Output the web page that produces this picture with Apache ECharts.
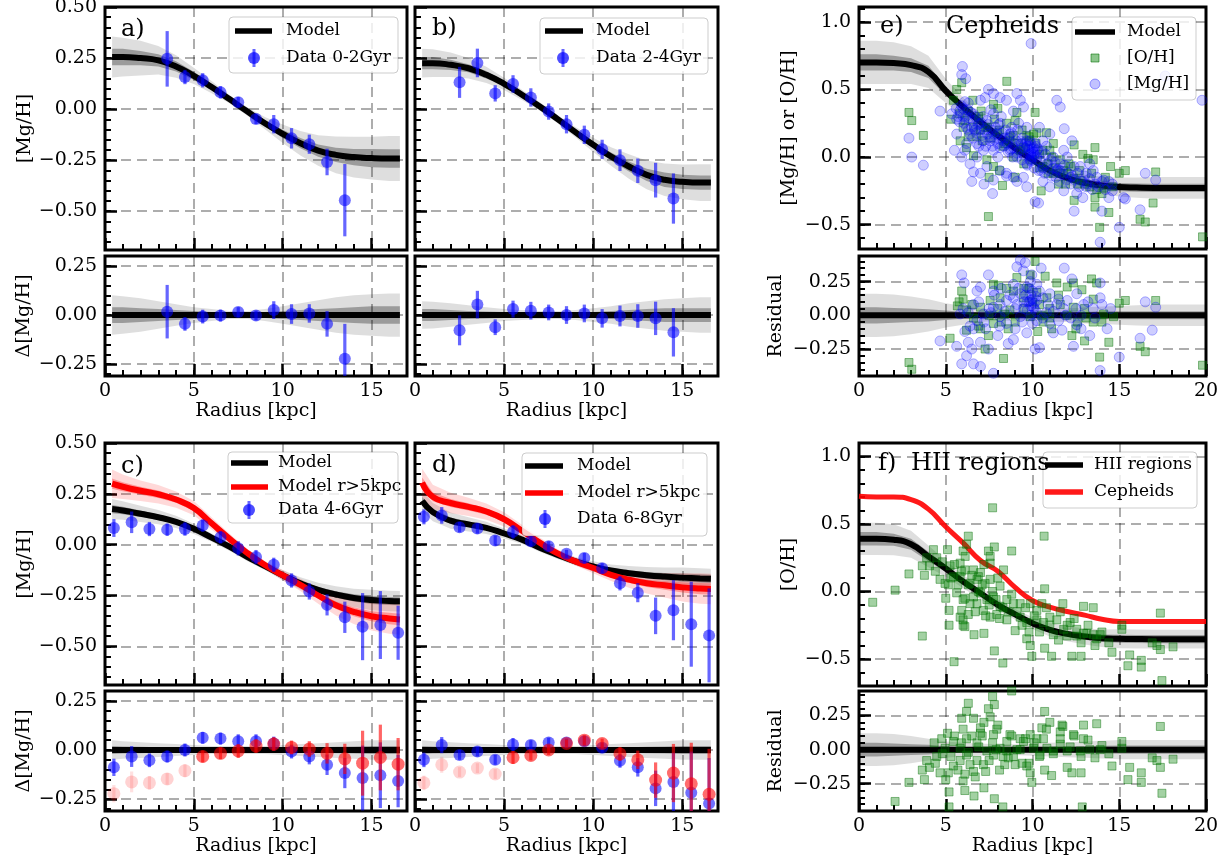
<!DOCTYPE html>
<html><head><meta charset="utf-8">
<script src="https://cdn.jsdelivr.net/npm/echarts@6/dist/echarts.min.js"></script>
<style>html,body{margin:0;padding:0;background:#fff}#c{width:1231px;height:865px}</style>
</head><body><div id="c"></div>
<script>
// ---------------- DATA ----------------
// model radius grids
const xModelAD = [0.4,1,2,3,4,5,6,7,8,9,10,11,12,13,14,15,16,16.6];
const xModelEF = [0,1,2,3,4,5,6,7,8,9,10,11,12,13,14,15,16,17,18,19,20];
// panel a (0-2 Gyr)
const xDataA = [3.5,4.5,5.5,6.5,7.5,8.5,9.5,10.5,11.5,12.5,13.5];
const yDataA = [0.246,0.157,0.141,0.082,0.034,-0.048,-0.074,-0.143,-0.172,-0.259,-0.446];
const errA   = [0.136,0.035,0.035,0.03,0.025,0.025,0.045,0.05,0.047,0.065,0.177];
const resA   = [0.017,-0.045,-0.008,-0.003,0.015,-0.003,0.025,0.005,0.008,-0.045,-0.222];
const modelA = [0.255,0.255,0.25,0.239,0.209,0.163,0.108,0.049,-0.011,-0.069,-0.121,-0.167,-0.203,-0.224,-0.235,-0.24,-0.242,-0.242];
const spreadOutA = [0.10,0.095,0.085,0.07,0.055,0.04,0.03,0.02,0.02,0.03,0.045,0.06,0.075,0.09,0.1,0.105,0.11,0.11];
const spreadInA  = [0.04,0.04,0.035,0.03,0.025,0.02,0.015,0.01,0.01,0.015,0.02,0.025,0.03,0.035,0.04,0.045,0.045,0.045];
// panel b (2-4 Gyr)
const xDataB = [2.5,3.5,4.5,5.5,6.5,7.5,8.5,9.5,10.5,11.5,12.5,13.5,14.5];
const yDataB = [0.131,0.226,0.077,0.123,0.057,-0.012,-0.074,-0.126,-0.197,-0.25,-0.302,-0.348,-0.438];
const errB   = [0.076,0.07,0.04,0.043,0.045,0.04,0.045,0.045,0.047,0.053,0.06,0.085,0.123];
const resB   = [-0.078,0.053,-0.062,0.03,0.022,0.013,0.0,0.008,-0.017,-0.005,-0.005,-0.017,-0.088];
const modelB = [0.225,0.225,0.217,0.2,0.168,0.124,0.07,0.013,-0.049,-0.113,-0.175,-0.232,-0.281,-0.322,-0.346,-0.356,-0.36,-0.36];
const spreadOutB = [0.07,0.068,0.06,0.05,0.04,0.03,0.025,0.02,0.02,0.025,0.035,0.045,0.06,0.07,0.08,0.085,0.09,0.09];
const spreadInB  = [0.03,0.03,0.025,0.02,0.018,0.015,0.012,0.01,0.01,0.012,0.015,0.02,0.025,0.03,0.035,0.035,0.035,0.035];
// panels c, d (4-6, 6-8 Gyr)
const xDataCD = [0.5,1.5,2.5,3.5,4.5,5.5,6.5,7.5,8.5,9.5,10.5,11.5,12.5,13.5,14.5,15.5,16.5];
const yDataC = [0.082,0.110,0.077,0.074,0.077,0.094,0.036,-0.018,-0.061,-0.099,-0.176,-0.230,-0.296,-0.357,-0.403,-0.395,-0.433];
const errC   = [0.044,0.053,0.035,0.03,0.033,0.03,0.03,0.035,0.035,0.035,0.035,0.04,0.052,0.077,0.165,0.167,0.133];
const resBlueC = [-0.088,-0.033,-0.052,-0.033,0.0,0.062,0.058,0.045,0.045,0.033,-0.008,-0.033,-0.075,-0.117,-0.142,-0.128,-0.158];
const resRedC  = [-0.222,-0.162,-0.167,-0.147,-0.105,-0.033,-0.017,-0.005,0.02,0.03,0.013,0.005,-0.017,-0.045,-0.067,-0.038,-0.072];
const modelC    = [0.175,0.168,0.152,0.135,0.112,0.078,0.035,-0.01,-0.06,-0.105,-0.15,-0.19,-0.222,-0.245,-0.262,-0.272,-0.277,-0.278];
const modelCRed = [0.30,0.285,0.265,0.248,0.222,0.18,0.105,0.03,-0.04,-0.10,-0.15,-0.198,-0.25,-0.298,-0.33,-0.352,-0.363,-0.368];
const yDataD = [0.137,0.144,0.086,0.079,0.020,0.063,0.017,-0.008,-0.045,-0.066,-0.116,-0.190,-0.236,-0.350,-0.322,-0.391,-0.446];
const errD   = [0.037,0.041,0.025,0.025,0.025,0.033,0.025,0.025,0.02,0.025,0.025,0.035,0.047,0.09,0.148,0.209,0.231];
const resBlueD = [-0.05,0.025,-0.025,-0.008,-0.05,0.028,0.025,0.038,0.038,0.045,0.012,-0.055,-0.088,-0.195,-0.162,-0.217,-0.272];
const resRedD  = [-0.167,-0.075,-0.112,-0.092,-0.122,-0.038,-0.028,0.0,0.033,0.05,0.033,-0.02,-0.05,-0.153,-0.117,-0.172,-0.225];
const modelD    = [0.215,0.16,0.118,0.1,0.083,0.055,0.025,-0.015,-0.05,-0.082,-0.107,-0.127,-0.14,-0.15,-0.157,-0.162,-0.166,-0.168];
const modelDRed = [0.305,0.235,0.205,0.186,0.163,0.125,0.068,0.01,-0.043,-0.082,-0.115,-0.148,-0.172,-0.19,-0.2,-0.21,-0.216,-0.218];
const spreadOutCD = [0.05,0.045,0.04,0.035,0.03,0.025,0.02,0.02,0.02,0.02,0.025,0.03,0.035,0.04,0.045,0.05,0.05,0.05];
const spreadInCD  = [0.02,0.018,0.016,0.014,0.012,0.01,0.008,0.008,0.008,0.008,0.01,0.012,0.014,0.016,0.018,0.02,0.02,0.02];
const spreadOutRed = [0.07,0.06,0.05,0.045,0.04,0.035,0.03,0.025,0.02,0.02,0.025,0.03,0.04,0.05,0.06,0.07,0.075,0.075];
const spreadInRed  = [0.025,0.022,0.02,0.018,0.016,0.014,0.012,0.01,0.008,0.008,0.01,0.012,0.015,0.018,0.022,0.025,0.028,0.028];
// panel e (Cepheids)
const modelE = [0.70,0.70,0.695,0.68,0.63,0.49,0.37,0.26,0.16,0.065,-0.02,-0.10,-0.155,-0.19,-0.21,-0.222,-0.226,-0.228,-0.228,-0.228,-0.228];
const spreadOutE = [0.16,0.16,0.155,0.14,0.12,0.09,0.07,0.05,0.04,0.04,0.04,0.045,0.05,0.06,0.065,0.07,0.075,0.08,0.08,0.08,0.08];
const spreadInE  = [0.06,0.06,0.055,0.05,0.045,0.035,0.025,0.02,0.015,0.015,0.015,0.02,0.02,0.025,0.03,0.03,0.03,0.03,0.03,0.03,0.03];
const ohCepheids = [[2.88,0.33],[3.04,0.27],[3.71,0.16],[5.63,0.50],[5.92,0.55],[8.52,0.56],[5.29,0.28],[6.56,0.42],[7.75,0.39],[8.0,0.36],[7.04,0.34],[9.1,0.33],[10.15,0.33],[10.8,0.18],[11.2,0.10],[12.4,0.09],[12.9,0.02],[13.6,0.07],[15.0,-0.12],[15.35,-0.10],[17.1,-0.11],[16.95,-0.34],[16.2,-0.46],[16.5,-0.48],[19.8,-0.59],[7.46,-0.44],[13.87,-0.52],[14.4,-0.41],[13.6,-0.37],[12.4,-0.32],[8.27,-0.21],[6.6,0.01],[5.83,0.12],[6.2,0.07],[7.37,-0.02],[7.75,-0.07],[8.9,0.0],[9.48,0.07],[9.67,0.16],[10.25,0.18],[11.0,0.05],[11.6,-0.02],[11.8,-0.10],[12.75,-0.17],[13.3,-0.22],[14.1,-0.23],[14.6,-0.22],[13.6,-0.30],[6.8,0.15],[7.4,0.22],[8.1,0.20],[9.0,0.27],[10.06,0.17],[10.6,-0.07],[11.2,-0.12],[12.2,-0.07],[13.5,-0.02],[14.5,-0.07],[13.2,-0.01],[6.0,0.22],[6.3,0.34],[5.44,0.42],[8.4,0.1],[9.3,0.05],[9.8,0.12],[10.4,0.02],[7.0,0.2],[8.7,0.15],[10.9,-0.05],[12.0,-0.12],[12.6,-0.2],[14.0,-0.27],[11.5,-0.2],[6.9,0.3],[9.5,-0.05],
  [5.8,0.32],[6.1,0.27],[6.3,0.15],[6.6,0.22],[6.9,0.28],[7.1,0.12],[7.3,0.22],[7.6,0.14],[7.8,0.28],[8.0,0.18],[8.3,0.08],[8.5,0.25],[8.7,0.12],[8.9,0.16],[9.2,0.1],[9.4,0.2],[9.6,0.06],[9.8,0.15],[10.0,-0.02],[10.2,0.1],[10.4,-0.08],[10.6,0.05],[10.9,-0.12],[11.1,0.0],[11.3,-0.08],[11.6,-0.12],[11.9,-0.2],[12.1,-0.05],[12.4,-0.16],[12.7,-0.1],[13.0,-0.2],[13.4,-0.12],[13.7,-0.24],[14.2,-0.15],[9.0,-0.15],[8.1,-0.1],[10.5,-0.25],[7.5,-0.15]];
const mgCepheids = [[2.88,0.14],[3.04,0.0],[3.71,-0.06],[4.67,0.34],[5.96,0.67],[5.92,0.61],[6.15,0.58],[7.46,0.50],[9.92,0.84],[11.4,0.42],[11.6,0.37],[11.83,0.21],[12.27,0.12],[16.5,-0.12],[17.1,-0.17],[19.77,0.42],[17.65,0.60],[15.0,-0.52],[13.9,-0.63],[12.4,-0.40],[14.0,-0.40],[15.35,-0.31],[16.2,-0.39],[7.7,-0.27],[10.15,-0.33],[10.35,-0.34],[6.6,-0.11],[5.92,0.0],[5.63,0.17],[5.63,0.28],[6.2,0.22],[6.6,0.32],[7.0,0.42],[7.27,0.44],[7.75,0.47],[8.13,0.44],[9.1,0.47],[9.3,0.42],[9.48,0.37],[8.9,0.34],[8.5,0.42],[7.75,0.32],[8.13,0.25],[8.7,0.17],[7.56,0.12],[7.17,0.05],[6.8,0.0],[7.37,-0.07],[8.13,-0.10],[8.5,-0.12],[8.9,-0.15],[9.48,-0.15],[9.67,-0.05],[9.86,0.02],[10.06,0.0],[10.25,0.05],[10.6,0.12],[11.0,0.17],[11.2,0.0],[11.6,-0.05],[12.0,0.0],[12.4,-0.07],[12.75,-0.07],[13.1,-0.12],[13.5,-0.10],[13.7,-0.15],[14.1,-0.17],[14.4,-0.30],[15.25,-0.30],[13.1,-0.22],[12.55,-0.27],[11.8,-0.25],[11.0,-0.22],[10.6,-0.18],[9.67,-0.22],[9.1,-0.18],[8.5,-0.14],[7.75,-0.17],[7.0,-0.12],[6.4,-0.05],[6.2,0.10],[6.7,0.20],[7.37,0.27],[7.75,0.17],[8.3,0.12],[8.9,0.07],[9.3,0.12],[9.67,0.22],[9.86,0.12],[10.06,0.07],[10.25,0.0],[9.86,-0.02],[9.48,0.02],[9.1,0.0],[8.7,0.05],[8.13,0.07],[7.75,0.05],[7.17,0.12],[6.8,0.10],[6.4,0.17],[6.0,0.30],[5.8,0.34],[5.35,0.32],[9.8,0.05],[9.9,0.03],[10.0,0.06],[9.7,0.08],[10.1,0.02],[9.6,0.1],[9.9,0.1],[10.2,0.08],[6.3,0.40],[6.9,0.25],[7.6,0.35],[8.2,0.30],[8.8,0.22],[9.2,0.25],[10.4,0.22],[10.8,0.08],[11.4,-0.1],[12.2,-0.15],[13.3,-0.05],[14.6,-0.2],[6.1,0.05],[6.5,-0.18],[7.2,-0.2],[8.0,0.0],[10.5,-0.1],[11.8,0.05],[12.9,-0.3],[5.5,0.05],
  [5.6,0.36],[5.7,0.3],[5.8,0.26],[5.9,0.38],[6.0,0.36],[6.05,0.25],[6.1,0.41],[6.15,0.3],[6.25,0.35],[6.3,0.2],[6.35,0.29],[6.45,0.33],[6.5,0.22],[6.55,0.14],[6.6,0.27],[6.7,0.3],[6.75,0.18],[6.85,0.24],[6.9,0.08],[6.95,0.2],[7.05,0.25],[7.1,0.16],[7.15,0.3],[7.25,0.2],[7.3,0.08],[7.4,0.17],[7.45,0.24],[7.55,0.15],[7.65,0.2],[7.7,0.08],[7.8,0.13],[7.85,0.22],[7.95,0.17],[8.0,0.1],[8.05,0.24],[8.15,0.13],[8.25,0.18],[8.35,0.08],[8.4,0.14],[8.45,0.2],[8.55,0.1],[8.6,0.04],[8.65,0.14],[8.75,0.06],[8.8,0.18],[8.85,0.0],[8.95,0.1],[9.05,0.12],[9.1,0.03],[9.15,0.2],[9.25,0.05],[9.35,0.1],[9.4,-0.02],[9.45,0.14],[9.55,0.07],[9.65,0.12],[9.7,-0.06],[9.75,0.02],[9.85,0.08],[9.9,-0.03],[9.95,0.0],[10.05,0.04],[10.1,-0.08],[10.15,0.1],[10.25,-0.02],[10.3,0.06],[10.35,-0.1],[10.45,-0.03],[10.55,0.04],[10.6,-0.08],[10.7,-0.12],[10.75,0.02],[10.85,-0.05],[10.95,-0.1],[11.05,-0.02],[11.1,-0.14],[11.2,-0.08],[11.3,-0.04],[11.35,-0.15],[11.45,-0.09],[11.55,-0.18],[11.6,-0.1],[11.75,-0.13],[11.85,-0.06],[11.95,-0.17],[12.05,-0.12],[12.2,-0.2],[12.3,-0.14],[12.45,-0.17],[12.6,-0.12],[12.7,-0.22],[12.85,-0.18],[13.0,-0.14],[13.15,-0.2],[13.3,-0.16],[13.45,-0.24],[13.6,-0.2],[13.8,-0.22],[14.0,-0.18],[14.2,-0.24],[14.4,-0.18],[14.6,-0.25]];
const ohCepheidsRes = [[2.88,-0.35],[3.04,-0.40],[5.77,0.10],[5.92,0.18],[5.25,-0.17],[7.75,0.23],[8.04,0.22],[8.4,0.01],[9.1,0.28],[9.87,0.30],[10.15,0.40],[10.73,0.29],[11.4,0.24],[12.0,0.21],[12.36,0.24],[12.85,0.19],[13.4,0.27],[13.7,0.24],[15.35,0.11],[15.0,0.09],[17.1,0.11],[16.2,-0.23],[16.5,-0.27],[19.8,-0.37],[8.33,-0.32],[13.87,-0.31],[14.4,-0.20],[13.0,-0.19],[12.27,-0.15],[11.1,-0.10],[10.6,-0.05],[7.27,-0.25],[7.46,-0.15],[6.6,-0.02],[6.2,0.04],[7.0,0.06],[7.56,0.11],[8.13,0.13],[8.9,0.18],[9.48,0.13],[10.25,0.17],[10.83,0.13],[11.6,0.08],[12.35,0.06],[13.1,-0.02],[13.5,-0.05],[14.1,0.01],[14.67,-0.01],[11.0,0.05],[9.87,-0.01],[8.7,0.04],[7.75,-0.06],[6.2,-0.11],[5.67,0.07],[9.5,0.2],[10.4,0.08],[6.9,-0.08],[8.6,-0.1],[12.6,-0.05],
  [6.0,0.12],[6.5,0.08],[7.0,-0.1],[7.5,0.0],[8.0,0.05],[8.5,0.2],[9.0,-0.05],[9.5,0.05],[10.0,0.1],[10.5,0.0],[11.0,-0.02],[11.5,0.15],[12.0,0.0],[12.5,-0.1],[13.0,0.05],[13.5,0.12],[14.0,-0.05],[9.8,0.2],[10.3,-0.12],[8.2,-0.05]];
const mgCepheidsRes = [[4.67,-0.19],[5.92,0.30],[6.06,0.24],[7.46,0.30],[9.3,0.41],[9.58,0.39],[9.1,0.36],[10.5,0.35],[11.83,0.35],[12.27,0.27],[13.9,0.24],[16.5,0.10],[17.1,0.06],[16.9,-0.11],[16.2,-0.17],[15.0,-0.31],[13.9,-0.41],[12.36,-0.23],[10.15,-0.25],[10.4,-0.24],[7.75,-0.43],[6.6,-0.36],[5.92,-0.36],[5.63,-0.23],[6.2,-0.30],[7.0,-0.38],[7.46,-0.25],[8.6,-0.21],[8.9,-0.18],[9.67,-0.13],[11.2,-0.13],[11.7,-0.11],[13.3,-0.15],[14.3,-0.10],[6.4,-0.08],[6.8,-0.04],[7.17,0.01],[7.75,0.06],[8.13,0.08],[8.5,0.11],[8.9,0.13],[9.3,0.16],[9.67,0.21],[9.87,0.11],[10.06,0.06],[9.48,0.05],[9.1,0.08],[10.25,0.11],[10.6,0.13],[11.0,0.16],[11.4,0.08],[12.0,0.11],[12.55,0.16],[12.95,0.08],[13.5,0.05],[13.9,0.13],[5.83,0.01],[6.6,0.08],[7.0,0.21],[8.13,-0.01],[8.5,-0.06],[9.3,-0.01],[10.25,-0.04],[11.0,-0.06],[12.55,-0.07],[9.87,0.25],[9.96,0.30],[9.48,0.33],[10.25,0.23],[8.9,0.23],[7.75,0.18],[6.8,0.18],[9.8,0.1],[9.9,0.07],[10.0,0.12],[9.7,0.04],[10.1,0.09],[9.5,0.1],[9.9,0.15],[10.2,0.03],[6.3,-0.2],[6.1,-0.12],[7.3,-0.1],[8.2,0.2],[10.8,0.02],[11.9,0.0],[12.8,-0.1],[14.5,0.05],
  [6.0,0.05],[6.3,0.02],[6.6,-0.1],[6.9,0.1],[7.2,-0.05],[7.5,0.05],[7.8,0.15],[8.1,-0.08],[8.4,0.03],[8.7,0.15],[9.0,0.05],[9.2,0.2],[9.4,-0.05],[9.6,0.15],[9.8,0.2],[10.0,0.18],[10.2,0.14],[10.4,0.18],[10.6,-0.02],[10.9,0.08],[11.2,0.03],[11.5,0.12],[11.8,0.05],[12.2,-0.02],[12.5,0.05],[12.8,0.0],[13.2,0.1],[13.6,-0.02],[14.0,0.08],[7.0,-0.2],[8.0,-0.15],[9.0,-0.1],[10.0,-0.06],[11.5,-0.04],[6.5,-0.25],[7.6,0.02],[9.9,0.0],[10.1,0.05],[9.7,0.1]];
// panel f (HII regions)
const modelFRed = [0.705,0.70,0.70,0.68,0.61,0.48,0.36,0.23,0.15,0.03,-0.067,-0.115,-0.148,-0.175,-0.205,-0.222,-0.222,-0.222,-0.222,-0.222,-0.222];
const modelF = [0.39,0.39,0.383,0.35,0.26,0.17,0.074,-0.012,-0.099,-0.17,-0.235,-0.284,-0.314,-0.333,-0.346,-0.35,-0.352,-0.353,-0.353,-0.353,-0.353];
const spreadOutF = [0.12,0.12,0.115,0.1,0.08,0.06,0.05,0.045,0.04,0.04,0.045,0.05,0.055,0.06,0.065,0.07,0.07,0.07,0.07,0.07,0.07];
const spreadInF  = [0.05,0.05,0.045,0.04,0.035,0.025,0.02,0.018,0.015,0.015,0.018,0.02,0.022,0.025,0.028,0.03,0.03,0.03,0.03,0.03,0.03];
const ohHII = [[0.79,-0.08],[2.08,0.01],[2.88,0.13],[3.65,-0.33],[3.65,0.19],[3.77,0.12],[3.9,0.25],[4.06,0.19],[4.29,0.31],[4.48,0.25],[4.67,0.09],[4.96,0.06],[5.1,0.31],[5.15,0.05],[5.19,-0.14],[5.19,-0.25],[5.48,-0.52],[5.83,0.11],[5.92,-0.14],[6.0,-0.21],[6.1,-0.26],[6.2,0.35],[6.3,0.41],[6.4,0.06],[6.6,-0.04],[6.63,-0.32],[6.8,-0.09],[7.0,0.14],[7.2,-0.31],[7.46,0.30],[7.56,0.26],[7.7,0.62],[7.8,0.33],[7.8,-0.44],[7.94,-0.17],[8.29,-0.53],[8.52,-0.21],[8.8,0.30],[9.0,-0.29],[9.29,-0.09],[9.67,-0.35],[9.87,-0.40],[9.96,-0.48],[10.25,-0.14],[10.54,-0.09],[10.67,0.41],[10.7,0.02],[10.7,-0.42],[11.0,-0.25],[11.1,-0.48],[11.5,-0.36],[11.75,-0.09],[12.0,-0.25],[12.27,-0.48],[12.55,-0.33],[12.8,-0.48],[12.94,-0.11],[13.13,-0.31],[13.5,-0.12],[13.7,-0.35],[14.58,-0.45],[15.15,-0.25],[15.5,-0.55],[15.6,-0.47],[16.27,-0.51],[16.27,-0.56],[16.9,-0.38],[17.17,-0.40],[17.37,-0.16],[17.37,-0.43],[17.46,-0.66],[18.1,-0.41],[5.25,0.19],[5.44,0.11],[5.63,-0.01],[6.0,-0.06],[6.1,0.16],[6.4,-0.09],[6.8,0.09],[7.0,-0.01],[7.17,-0.14],[7.37,-0.06],[7.56,0.09],[7.75,-0.04],[8.13,-0.11],[8.52,-0.06],[8.9,-0.09],[9.29,-0.19],[9.67,-0.23],[9.87,-0.09],[10.25,-0.21],[10.63,-0.23],[11.0,-0.19],[11.4,-0.21],[11.8,-0.28],[12.17,-0.23],[12.55,-0.28],[12.94,-0.31],[13.5,-0.32],[13.9,-0.32],[15.15,-0.28],[5.83,0.21],[6.12,0.26],[6.6,0.16],[6.88,0.11],[7.27,0.06],[7.56,0.21],[8.13,0.04],[8.33,0.16],[5.83,-0.19],[6.3,-0.17],[7.56,-0.19],[6.0,-0.25],
  [5.3,0.1],[5.5,0.2],[5.7,0.05],[5.9,0.15],[6.1,-0.05],[6.3,0.05],[6.5,0.12],[6.7,-0.15],[6.9,0.0],[7.1,0.05],[7.3,-0.18],[7.5,-0.1],[7.7,0.0],[7.9,-0.06],[8.1,-0.2],[8.3,-0.12],[8.6,-0.15],[8.8,-0.02],[9.1,-0.15],[9.4,-0.25],[9.6,-0.12],[9.8,-0.3],[10.1,-0.18],[10.4,-0.3],[10.8,-0.12],[11.2,-0.32],[11.6,-0.15],[12.0,-0.33],[12.4,-0.2],[12.8,-0.38],[13.2,-0.25],[13.6,-0.4],[14.0,-0.3],[14.4,-0.38],[4.4,0.15],[4.8,0.22],[5.0,-0.05],[6.0,0.3],[7.2,0.2],[8.0,0.1]];
const ohHIIRes = [[2.08,-0.38],[2.88,-0.24],[3.65,-0.15],[3.77,-0.22],[3.9,-0.08],[4.06,-0.13],[4.33,0.05],[4.48,-0.05],[4.67,-0.17],[4.77,0.08],[4.96,0.01],[5.1,0.12],[5.15,-0.17],[5.19,-0.31],[5.19,-0.42],[5.44,-0.12],[5.83,0.01],[5.92,0.23],[6.0,-0.23],[6.1,-0.30],[6.2,0.28],[6.3,0.34],[6.4,-0.11],[6.6,0.23],[6.63,-0.34],[6.8,-0.08],[7.0,0.16],[7.2,-0.28],[7.46,0.30],[7.56,0.24],[7.7,0.39],[7.8,0.33],[7.8,-0.36],[7.94,0.15],[8.29,-0.42],[8.52,0.06],[8.8,0.43],[9.0,-0.11],[9.29,0.08],[9.67,-0.12],[9.87,-0.17],[9.96,-0.24],[10.25,0.08],[10.54,0.16],[10.7,0.28],[10.7,-0.15],[11.0,0.20],[11.1,-0.19],[11.7,0.18],[11.75,0.17],[12.0,-0.13],[12.27,-0.17],[12.8,-0.17],[12.87,-0.42],[12.94,0.08],[12.94,0.18],[13.7,0.19],[13.9,0.0],[14.58,-0.12],[15.15,0.06],[15.15,0.01],[15.5,-0.22],[15.6,-0.13],[16.27,-0.17],[16.27,-0.24],[16.9,-0.06],[17.17,-0.08],[17.37,0.17],[17.46,-0.32],[18.1,-0.07],[17.37,-0.13],[5.44,0.06],[6.2,0.08],[6.8,0.05],[7.37,-0.01],[7.75,-0.04],[8.13,0.01],[8.52,-0.01],[8.9,-0.05],[9.29,0.0],[9.48,0.06],[10.06,0.01],[10.44,-0.04],[10.83,0.01],[11.2,-0.01],[11.6,0.04],[12.17,0.02],[12.75,-0.01],[13.3,0.0],[5.83,-0.08],[6.6,-0.16],[7.17,-0.11],[8.4,-0.11],[6.2,-0.04],[7.0,0.12],[7.75,0.11],[8.7,0.11],[9.87,0.11],[10.63,0.08],[11.6,0.08],[12.36,0.11],
  [5.3,-0.05],[5.5,0.1],[5.7,-0.15],[5.9,0.05],[6.1,-0.18],[6.3,-0.02],[6.5,0.1],[6.7,-0.2],[6.9,0.02],[7.1,0.1],[7.3,-0.16],[7.5,-0.08],[7.7,0.05],[7.9,0.0],[8.1,-0.15],[8.3,-0.05],[8.6,-0.06],[8.8,0.1],[9.1,0.0],[9.4,-0.1],[9.6,0.08],[9.8,-0.1],[10.1,0.05],[10.4,-0.05],[10.8,0.15],[11.2,-0.03],[11.6,0.13],[12.0,-0.01],[12.4,0.1],[12.8,-0.05],[13.2,0.07],[13.6,-0.06],[14.0,0.03],[14.4,-0.03],[4.4,-0.1],[4.8,-0.03],[5.0,-0.22],[6.0,0.15],[7.2,0.2],[8.0,0.18]];

// ---------------- CHART ----------------
const FONT = '"DejaVu Serif", serif';
const FS = 19;
const grids = [], xAxes = [], yAxes = [], series = [];
function ticks(a, b, step) { const out = []; for (let v = a; v <= b + 1e-9; v += step) out.push(Math.round(v * 1000) / 1000); return out; }
function fmt(dec) { return v => (v < -1e-9 ? '\u2212' : '') + Math.abs(v).toFixed(dec); }

function addPanel(c) {
  const gi = grids.length;
  grids.push({left: c.left, top: c.top, width: c.width, height: c.height, show: true, borderColor: '#000', borderWidth: 3,
    backgroundColor: '#fff', containLabel: false, outerBoundsMode: 'none'});
  const split = {show: true, lineStyle: {type: [10, 6], color: 'rgba(0,0,0,0.32)', width: 2}};
  const lab = {fontSize: FS, fontFamily: FONT, color: '#000'};
  const nameStyle = {fontSize: FS, fontFamily: FONT, color: '#000'};
  const noLine = {show: false, onZero: false};
  xAxes.push({gridIndex: gi, type: 'value', position: 'bottom', min: c.x[0], max: c.x[1],
    axisLine: noLine,
    axisTick: {show: true, inside: true, length: 12, lineStyle: {color: '#000', width: 2.5}, customValues: c.xMajor},
    axisLabel: Object.assign({show: !!c.xLabels, customValues: c.xMajor, margin: 6, formatter: fmt(0)}, lab),
    splitLine: split, name: c.xName || '', nameLocation: 'middle', nameGap: 26, nameTextStyle: nameStyle});
  xAxes.push({gridIndex: gi, type: 'value', position: 'bottom', min: c.x[0], max: c.x[1],
    axisLine: noLine, axisLabel: {show: false}, splitLine: {show: false},
    axisTick: {show: true, inside: true, length: 6, lineStyle: {color: '#000', width: 2}, customValues: c.xMinor}});
  yAxes.push({gridIndex: gi, type: 'value', position: 'left', min: c.y[0], max: c.y[1],
    axisLine: noLine,
    axisTick: {show: true, inside: true, length: 12, lineStyle: {color: '#000', width: 2.5}, customValues: c.yMajor},
    axisLabel: Object.assign({show: !!c.yLabels, customValues: c.yMajor, margin: 8, formatter: fmt(c.yDec)}, lab),
    splitLine: split, name: c.yName || '', nameLocation: 'middle', nameGap: c.yNameGap || 70, nameTextStyle: nameStyle});
  yAxes.push({gridIndex: gi, type: 'value', position: 'left', min: c.y[0], max: c.y[1],
    axisLine: noLine, axisLabel: {show: false}, splitLine: {show: false},
    axisTick: {show: true, inside: true, length: 6, lineStyle: {color: '#000', width: 2}, customValues: c.yMinor}});
  return gi;
}

function bandSeries(gi, xs, center, spread, color) {
  return {type: 'custom', xAxisIndex: 2 * gi, yAxisIndex: 2 * gi, silent: true, z: 2, clip: true,
    data: [[xs[0], 0]], encode: {x: 0, y: 1},
    renderItem: (p, api) => {
      const up = xs.map((x, i) => api.coord([x, (center ? center[i] : 0) + spread[i]]));
      const lo = xs.map((x, i) => api.coord([x, (center ? center[i] : 0) - spread[i]])).reverse();
      return {type: 'polygon', shape: {points: up.concat(lo)}, style: {fill: color}};
    }};
}
function lineSeries(gi, xs, ys, color, width, z) {
  return {type: 'line', xAxisIndex: 2 * gi, yAxisIndex: 2 * gi, silent: true, z: z || 3,
    data: xs.map((x, i) => [x, ys ? ys[i] : 0]), symbol: 'none', smooth: 0.5,
    lineStyle: {color: color, width: width}, itemStyle: {color: color}};
}
function errSeries(gi, xs, ys, es, colorFn) {
  return {type: 'custom', xAxisIndex: 2 * gi, yAxisIndex: 2 * gi, silent: true, z: 5, clip: true,
    data: xs.map((x, i) => [x, ys[i], es[i]]), encode: {x: 0, y: 1},
    renderItem: (p, api) => {
      const x = api.value(0), y = api.value(1), e = api.value(2);
      const a = api.coord([x, y - e]), b = api.coord([x, y + e]);
      return {type: 'line', shape: {x1: a[0], y1: a[1], x2: b[0], y2: b[1]},
        style: {stroke: colorFn(x), lineWidth: 3.2}};
    }};
}
function pointSeries(gi, xs, ys, colorFn, size) {
  return {type: 'scatter', xAxisIndex: 2 * gi, yAxisIndex: 2 * gi, silent: true, z: 6,
    data: xs.map((x, i) => ({value: [x, ys[i]], itemStyle: {color: colorFn(x)}})),
    symbol: 'circle', symbolSize: size || 12};
}
function scatterSeries(gi, pts, symbol, size, fill, stroke, z) {
  return {type: 'scatter', xAxisIndex: 2 * gi, yAxisIndex: 2 * gi, silent: true, z: z || 6,
    data: pts, symbol: symbol, symbolSize: size,
    itemStyle: {color: fill, borderColor: stroke, borderWidth: 1}};
}

const blue = () => 'rgba(0,0,255,0.7)';
const blueBar = () => 'rgba(0,0,255,0.6)';
const redPt = x => x < 5 ? 'rgba(255,0,0,0.22)' : 'rgba(255,0,0,0.72)';
const redBar = x => x < 5 ? 'rgba(255,0,0,0.12)' : 'rgba(255,0,0,0.6)';
const MG_FILL = 'rgba(0,0,255,0.24)', MG_EDGE = 'rgba(0,0,255,0.36)';
const OH_FILL = 'rgba(0,128,0,0.45)', OH_EDGE = 'rgba(0,110,0,0.55)';

const AD = {x: [0, 17], xMajor: [0, 5, 10, 15], xMinor: ticks(1, 16, 1)};
const EF = {x: [0, 20], xMajor: [0, 5, 10, 15, 20], xMinor: ticks(1, 19, 1)};
const mainAD = {y: [-0.69, 0.5], yMajor: [-0.5, -0.25, 0, 0.25, 0.5], yMinor: ticks(-0.65, 0.45, 0.05), yDec: 2};
const resAD = {y: [-0.31, 0.30], yMajor: [-0.25, 0, 0.25], yMinor: ticks(-0.3, 0.3, 0.05), yDec: 2};

function P(base, extra) { return Object.assign({}, base, extra); }
// top row
const gA = addPanel(P(AD, P(mainAD, {left: 105, top: 7, width: 302, height: 243, yLabels: true, yName: '[Mg/H]', yNameGap: 67})));
const gAr = addPanel(P(AD, P(resAD, {left: 105, top: 256, width: 302, height: 120, yLabels: true, xLabels: true, yName: '\u0394[Mg/H]', yNameGap: 71, xName: 'Radius [kpc]'})));
const gB = addPanel(P(AD, P(mainAD, {left: 415, top: 7, width: 303, height: 243})));
const gBr = addPanel(P(AD, P(resAD, {left: 415, top: 256, width: 303, height: 120, xLabels: true, xName: 'Radius [kpc]'})));
const gE = addPanel(P(EF, {left: 859, top: 7, width: 347, height: 242, y: [-0.68, 1.11], yMajor: [-0.5, 0, 0.5, 1.0], yMinor: ticks(-0.6, 1.1, 0.1), yDec: 1, yLabels: true, yName: '[Mg/H] or [O/H]', yNameGap: 60}));
const gEr = addPanel(P(EF, {left: 859, top: 256, width: 347, height: 120, y: [-0.45, 0.44], yMajor: [-0.25, 0, 0.25], yMinor: ticks(-0.45, 0.4, 0.05), yDec: 2, yLabels: true, xLabels: true, yName: 'Residual', yNameGap: 73, xName: 'Radius [kpc]'}));
// bottom row
const gC = addPanel(P(AD, P(mainAD, {left: 105, top: 443, width: 302, height: 242, yLabels: true, yName: '[Mg/H]', yNameGap: 67})));
const gCr = addPanel(P(AD, P(resAD, {left: 105, top: 691, width: 302, height: 120, yLabels: true, xLabels: true, yName: '\u0394[Mg/H]', yNameGap: 71, xName: 'Radius [kpc]'})));
const gD = addPanel(P(AD, P(mainAD, {left: 415, top: 443, width: 303, height: 242})));
const gDr = addPanel(P(AD, P(resAD, {left: 415, top: 691, width: 303, height: 120, xLabels: true, xName: 'Radius [kpc]'})));
const gF = addPanel(P(EF, {left: 859, top: 443, width: 347, height: 243, y: [-0.70, 1.10], yMajor: [-0.5, 0, 0.5, 1.0], yMinor: ticks(-0.6, 1.1, 0.1), yDec: 1, yLabels: true, yName: '[O/H]', yNameGap: 60}));
const gFr = addPanel(P(EF, {left: 859, top: 691, width: 347, height: 120, y: [-0.45, 0.43], yMajor: [-0.25, 0, 0.25], yMinor: ticks(-0.45, 0.4, 0.05), yDec: 2, yLabels: true, xLabels: true, yName: 'Residual', yNameGap: 73, xName: 'Radius [kpc]'}));

const GREY_OUT = 'rgba(0,0,0,0.13)', GREY_IN = 'rgba(0,0,0,0.3)';
const RED_OUT = 'rgba(255,0,0,0.15)', RED_IN = 'rgba(255,0,0,0.3)';
function blackModel(gm, gr, xs, m, so, si) {
  series.push(bandSeries(gm, xs, m, so, GREY_OUT), bandSeries(gm, xs, m, si, GREY_IN), lineSeries(gm, xs, m, '#000', 6));
  series.push(bandSeries(gr, xs, null, so, GREY_OUT), bandSeries(gr, xs, null, si, GREY_IN), lineSeries(gr, xs, null, '#000', 6));
}
// a
blackModel(gA, gAr, xModelAD, modelA, spreadOutA, spreadInA);
series.push(errSeries(gA, xDataA, yDataA, errA, blueBar), pointSeries(gA, xDataA, yDataA, blue));
series.push(errSeries(gAr, xDataA, resA, errA, blueBar), pointSeries(gAr, xDataA, resA, blue));
// b
blackModel(gB, gBr, xModelAD, modelB, spreadOutB, spreadInB);
series.push(errSeries(gB, xDataB, yDataB, errB, blueBar), pointSeries(gB, xDataB, yDataB, blue));
series.push(errSeries(gBr, xDataB, resB, errB, blueBar), pointSeries(gBr, xDataB, resB, blue));
// c, d
[[gC, gCr, modelC, modelCRed, yDataC, errC, resBlueC, resRedC], [gD, gDr, modelD, modelDRed, yDataD, errD, resBlueD, resRedD]].forEach(p => {
  const [gm, gr, mb, mr, yd, ed, rb, rr] = p;
  blackModel(gm, gr, xModelAD, mb, spreadOutCD, spreadInCD);
  series.push(bandSeries(gm, xModelAD, mr, spreadOutRed, RED_OUT), bandSeries(gm, xModelAD, mr, spreadInRed, RED_IN), lineSeries(gm, xModelAD, mr, '#ff0000', 6, 4));
  series.push(errSeries(gm, xDataCD, yd, ed, blueBar), pointSeries(gm, xDataCD, yd, blue));
  series.push(errSeries(gr, xDataCD, rb, ed, blueBar), pointSeries(gr, xDataCD, rb, blue));
  const rbar = errSeries(gr, xDataCD, rr, ed, redBar); rbar.z = 7;
  const rpt = pointSeries(gr, xDataCD, rr, redPt, 13); rpt.z = 8;
  series.push(rbar, rpt);
});
// e
blackModel(gE, gEr, xModelEF, modelE, spreadOutE, spreadInE);
series.push(scatterSeries(gE, ohCepheids, 'rect', 8, OH_FILL, OH_EDGE, 6));
series.push(scatterSeries(gE, mgCepheids, 'circle', 10, MG_FILL, MG_EDGE, 7));
series.push(scatterSeries(gEr, ohCepheidsRes, 'rect', 8, OH_FILL, OH_EDGE, 6));
series.push(scatterSeries(gEr, mgCepheidsRes, 'circle', 10, MG_FILL, MG_EDGE, 7));
// f
blackModel(gF, gFr, xModelEF, modelF, spreadOutF, spreadInF);
series.push(lineSeries(gF, xModelEF, modelFRed, 'rgba(255,0,0,0.9)', 5, 4));
series.push(scatterSeries(gF, ohHII, 'rect', 8, OH_FILL, OH_EDGE, 6));
series.push(scatterSeries(gFr, ohHIIRes, 'rect', 8, OH_FILL, OH_EDGE, 6));

// ---------------- LEGENDS / LABELS (graphic) ----------------
const G = [];
function txt(x, y, s, size) {
  G.push({type: 'text', z: 101, silent: true, style: {text: s, x: x, y: y, fill: '#000', font: (size || 17) + 'px ' + FONT,
    textAlign: 'left', textVerticalAlign: 'middle', align: 'left', verticalAlign: 'middle'}});
}
function box(x, y, w, h) {
  G.push({type: 'rect', z: 100, silent: true, shape: {x: x, y: y, width: w, height: h, r: 4},
    style: {fill: 'rgba(255,255,255,0.8)', stroke: 'rgba(0,0,0,0.2)', lineWidth: 1}});
}
function lineItem(x1, x2, y, color) {
  G.push({type: 'line', z: 101, silent: true, shape: {x1: x1, y1: y, x2: x2, y2: y}, style: {stroke: color, lineWidth: 5.5}});
}
function errItem(cx, cy) {
  G.push({type: 'line', z: 101, silent: true, shape: {x1: cx, y1: cy - 9, x2: cx, y2: cy + 9}, style: {stroke: 'rgba(0,0,255,0.6)', lineWidth: 3}});
  G.push({type: 'circle', z: 102, silent: true, shape: {cx: cx, cy: cy, r: 6}, style: {fill: 'rgba(0,0,255,0.7)'}});
}
// a
box(229, 17, 169, 56); lineItem(235, 272, 31, '#000'); txt(286, 31, 'Model'); errItem(254, 58); txt(286, 58, 'Data 0-2Gyr');
// b
box(540, 18, 168, 56); lineItem(545, 583, 31, '#000'); txt(596, 31, 'Model'); errItem(563, 58); txt(596, 58, 'Data 2-4Gyr');
// c
box(228, 452, 170, 71); lineItem(231, 268, 463, '#000'); txt(278, 463, 'Model');
lineItem(231, 268, 487, '#ff0000'); txt(278, 487, 'Model r>5kpc'); errItem(249, 510); txt(278, 510, 'Data 4-6Gyr');
// d
box(522, 453, 185, 83); lineItem(525, 563, 466, '#000'); txt(577, 466, 'Model');
lineItem(525, 563, 493, '#ff0000'); txt(577, 493, 'Model r>5kpc'); errItem(545, 519); txt(577, 519, 'Data 6-8Gyr');
// e
box(1072, 17, 124, 83); lineItem(1075, 1115, 32, '#000'); txt(1127, 32, 'Model');
G.push({type: 'rect', z: 101, silent: true, shape: {x: 1091, y: 54, width: 8, height: 8}, style: {fill: OH_FILL, stroke: OH_EDGE, lineWidth: 1}});
txt(1127, 58, '[O/H]');
G.push({type: 'circle', z: 101, silent: true, shape: {cx: 1095, cy: 84, r: 5}, style: {fill: MG_FILL, stroke: MG_EDGE, lineWidth: 1}});
txt(1127, 84, '[Mg/H]');
// f
box(1043, 452, 154, 56); lineItem(1045, 1083, 465, '#000'); txt(1094, 465, 'HII regions');
lineItem(1045, 1083, 492, 'rgba(255,0,0,0.9)'); txt(1094, 492, 'Cepheids');
// panel labels
txt(121, 30, 'a)', 24); txt(432, 29, 'b)', 24); txt(121, 467, 'c)', 24); txt(432, 466, 'd)', 24);
txt(880, 27, 'e)', 24); txt(946, 27, 'Cepheids', 24); txt(878, 464, 'f)', 24); txt(911, 464, 'HII regions', 24);

const chart = echarts.init(document.getElementById('c'), null, {renderer: 'canvas'});
chart.setOption({animation: false, backgroundColor: '#fff', grid: grids, xAxis: xAxes, yAxis: yAxes, series: series, graphic: {elements: G}});
</script></body></html>
